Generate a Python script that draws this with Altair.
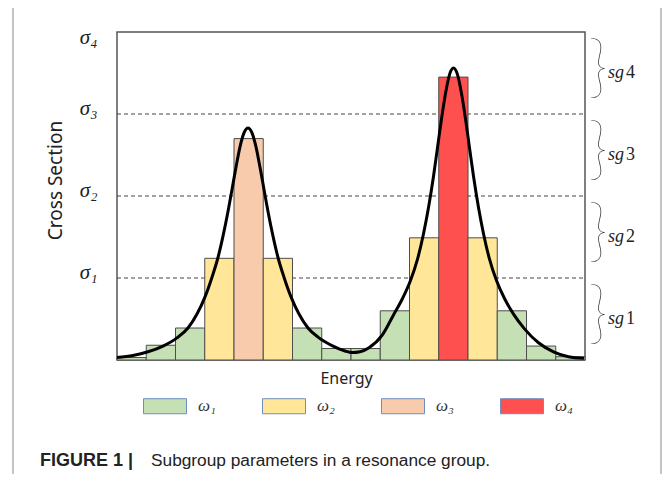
import altair as alt
import pandas as pd

# ---- data ----
bin_start = list(range(16))
bin_end = [i + 1 for i in range(16)]
bin_values = [0.03, 0.18, 0.39, 1.24, 2.70, 1.24, 0.39, 0.14,
              0.14, 0.60, 1.49, 3.45, 1.49, 0.60, 0.17, 0.04]
bin_groups = ["ω₁", "ω₁", "ω₁", "ω₂", "ω₃", "ω₂", "ω₁", "ω₁",
              "ω₁", "ω₁", "ω₂", "ω₄", "ω₂", "ω₁", "ω₁", "ω₁"]

curve_energy = [0.000, 0.547, 1.060, 1.573, 2.051, 2.427, 2.735, 3.009, 3.248, 3.453,
                3.624, 3.795, 3.932, 4.068, 4.205, 4.342, 4.479, 4.615, 4.752, 4.889,
                5.026, 5.162, 5.333, 5.504, 5.709, 5.949, 6.222, 6.530, 6.906, 7.385,
                7.795, 8.034, 8.308, 8.615, 9.060, 9.453, 9.761, 10.034, 10.274, 10.479,
                10.650, 10.821, 10.957, 11.094, 11.231, 11.368, 11.504, 11.641, 11.778, 11.915,
                12.051, 12.188, 12.359, 12.530, 12.735, 12.974, 13.248, 13.556, 13.932, 14.410,
                14.923, 15.436, 15.966]
curve_xs = [0.03, 0.055, 0.10, 0.17, 0.27, 0.39, 0.56, 0.77, 1.01, 1.25,
            1.51, 1.81, 2.08, 2.35, 2.60, 2.77, 2.83, 2.77, 2.60, 2.35,
            2.08, 1.81, 1.51, 1.25, 1.01, 0.77, 0.56, 0.39, 0.27, 0.17,
            0.11, 0.09, 0.10, 0.15, 0.30, 0.55, 0.75, 0.97, 1.23, 1.54,
            1.86, 2.24, 2.59, 2.94, 3.25, 3.48, 3.56, 3.48, 3.25, 2.94,
            2.59, 2.24, 1.86, 1.54, 1.23, 0.97, 0.75, 0.56, 0.38, 0.21,
            0.10, 0.04, 0.02]

sigma_levels = [1, 2, 3, 4]
sigma_labels = ["σ₁", "σ₂", "σ₃", "σ₄"]
dash_levels = [1, 2, 3]
subgroup_centres = [0.5, 1.5, 2.5, 3.5]
subgroup_prefix = ["sg", "sg", "sg", "sg"]
subgroup_numbers = ["1", "2", "3", "4"]
weight_labels = ["ω₁", "ω₂", "ω₃", "ω₄"]
weight_colours = ["#c5e0b4", "#ffe699", "#f8cbad", "#ff5050"]
caption_bold = "FIGURE 1\u00a0|"
caption_text = "Subgroup parameters in a resonance group."

# ---- layout ----
W, H = 468, 328
xs = alt.Scale(domain=[0, 16], nice=False, zero=False)
ys = alt.Scale(domain=[0, 4], nice=False)

bins_df = pd.DataFrame({"start": bin_start, "end": bin_end,
                        "value": bin_values, "group": bin_groups})
curve_df = pd.DataFrame({"e": curve_energy, "xs": curve_xs})
dash_df = pd.DataFrame({"level": dash_levels})
sg_df = pd.DataFrame({"centre": subgroup_centres, "prefix": subgroup_prefix,
                      "num": subgroup_numbers})
one = pd.DataFrame({"k": [0]})

label_expr = " : ".join(
    f"datum.value == {v} ? '{t}'" for v, t in zip(sigma_levels, sigma_labels)
) + " : ''"

dashes = alt.Chart(dash_df).mark_rule(
    color="#444444", strokeWidth=1.2, strokeDash=[4, 3]
).encode(
    y=alt.Y("level:Q", scale=ys),
    x=alt.value(0), x2=alt.value(W),
)

bars = alt.Chart(bins_df).mark_bar(
    stroke="#4d4d4d", strokeWidth=1, opacity=1
).encode(
    x=alt.X("start:Q", scale=xs, axis=alt.Axis(
        title="Energy", labels=False, ticks=False, domain=False, grid=False,
        titleFont="Noto Sans", titleFontSize=16, titleFontWeight="normal",
        titleColor="#222222", titleX=229, titleY=18, titleBaseline="middle")),
    x2="end:Q",
    y=alt.Y("value:Q", scale=ys, axis=alt.Axis(
        title="Cross Section", values=sigma_levels, labelExpr=label_expr,
        ticks=False, domain=False, grid=False, labelPadding=20,
        labelFont="Liberation Serif", labelFontStyle="italic", labelFontSize=21,
        labelColor="#222222",
        labelOffset={"condition": {"test": "datum.value == 4", "value": 5}, "value": -6},
        titleFont="Noto Sans", titleFontSize=19, titleFontWeight="normal",
        titleColor="#222222", titleX=-62, titleY=148, titleBaseline="middle",
        titleAlign="center")),
    y2=alt.datum(0),
    color=alt.Color("group:N", scale=alt.Scale(domain=weight_labels, range=weight_colours),
                    legend=alt.Legend(
                        title=None, orient="none", legendX=26, legendY=352,
                        direction="horizontal", columns=4,
                        symbolType="M-1,-0.35H1V0.35H-1Z", symbolSize=1849,
                        symbolStrokeColor="#6d8fbf", symbolStrokeWidth=1,
                        symbolOpacity=1, labelFont="Liberation Serif",
                        labelFontStyle="italic", labelFontSize=17, labelOffset=11,
                        labelColor="#333333", columnPadding=44, padding=0)),
)

curve = alt.Chart(curve_df).mark_line(
    color="black", strokeWidth=3, interpolate="monotone"
).encode(
    x=alt.X("e:Q", scale=xs),
    y=alt.Y("xs:Q", scale=ys),
)

braces = alt.Chart(sg_df).mark_text(
    text="}", font="Lato", fontWeight=100, fontSize=68, color="#333333",
    align="center", baseline="middle", dy=-3
).encode(
    y=alt.Y("centre:Q", scale=ys),
    x=alt.value(481),
)

sg_prefix = alt.Chart(sg_df).mark_text(
    font="Liberation Serif", fontStyle="italic", fontSize=18, color="#222222",
    align="left", baseline="middle"
).encode(
    y=alt.Y("centre:Q", scale=ys),
    x=alt.value(491),
    text="prefix:N",
)

sg_num = alt.Chart(sg_df).mark_text(
    font="Liberation Serif", fontSize=18, color="#222222",
    align="left", baseline="middle"
).encode(
    y=alt.Y("centre:Q", scale=ys),
    x=alt.value(509),
    text="num:N",
)

cap1 = alt.Chart(one).mark_text(
    text=caption_bold, font="Liberation Sans", fontWeight="bold", fontSize=18,
    color="#222222", align="left", baseline="middle"
).encode(x=alt.value(-77), y=alt.value(429))

cap2 = alt.Chart(one).mark_text(
    text=caption_text, font="Liberation Sans", fontSize=17.3,
    color="#222222", align="left", baseline="middle"
).encode(x=alt.value(34), y=alt.value(429))

frame_l = alt.Chart(one).mark_rule(color="#8a8a8a", strokeWidth=1).encode(
    x=alt.value(-104), y=alt.value(-24), y2=alt.value(442))
frame_r = alt.Chart(one).mark_rule(color="#8a8a8a", strokeWidth=1).encode(
    x=alt.value(544), y=alt.value(-24), y2=alt.value(442))

chart = alt.layer(
    frame_l, frame_r, dashes, bars, curve, braces, sg_prefix, sg_num, cap1, cap2
).properties(
    width=W, height=H,
    autosize=alt.AutoSizeParams(type="none"),
    padding={"left": 109, "top": 24, "right": 77, "bottom": 114},
    background="white",
).configure_view(stroke="#555555", strokeWidth=1.5)

chart.save("out.html", embed_options={"renderer": "svg", "actions": False})
